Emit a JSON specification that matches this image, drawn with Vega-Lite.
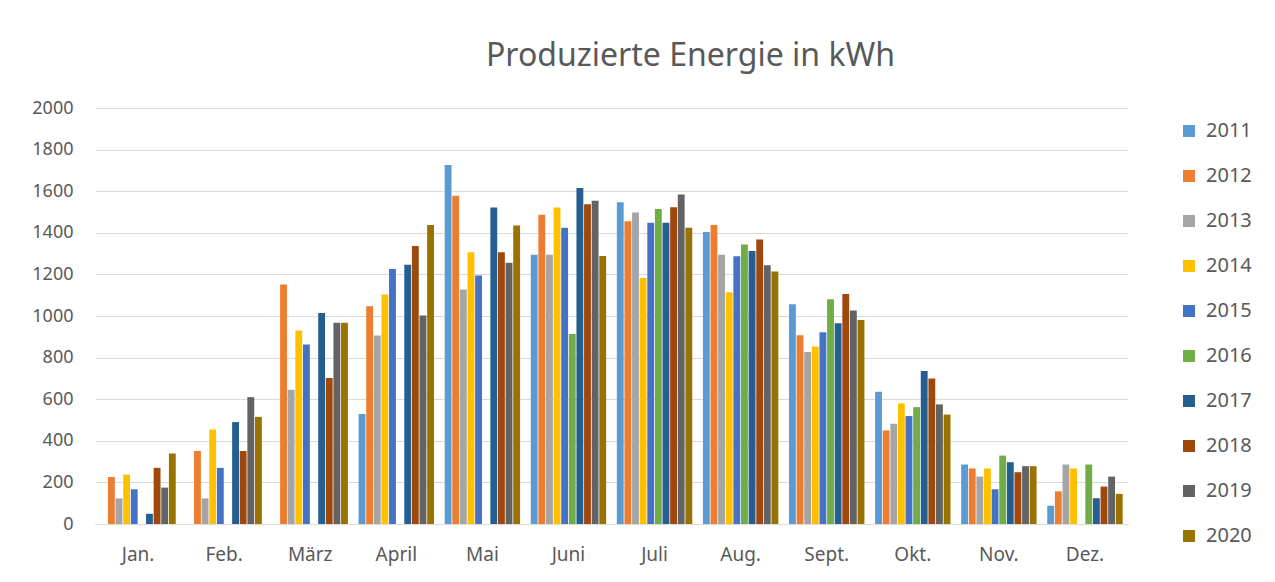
{
  "$schema": "https://vega.github.io/schema/vega-lite/v6.json",
  "autosize": {"type": "none"},
  "width": 1033,
  "height": 416,
  "padding": {"left": 95, "top": 108, "right": 147, "bottom": 58},
  "background": "white",
  "title": {
    "text": "Produzierte Energie in kWh",
    "anchor": "start",
    "frame": "group",
    "dx": 391,
    "offset": 26,
    "fontSize": 32,
    "font": "Noto Sans",
    "fontWeight": "normal",
    "color": "#595959"
  },
  "data": {
    "values": [
      {"month": "Jan.", "year": "2012", "value": 226},
      {"month": "Jan.", "year": "2013", "value": 123},
      {"month": "Jan.", "year": "2014", "value": 238},
      {"month": "Jan.", "year": "2015", "value": 167},
      {"month": "Jan.", "year": "2017", "value": 49},
      {"month": "Jan.", "year": "2018", "value": 270},
      {"month": "Jan.", "year": "2019", "value": 175},
      {"month": "Jan.", "year": "2020", "value": 339},
      {"month": "Feb.", "year": "2012", "value": 351},
      {"month": "Feb.", "year": "2013", "value": 123},
      {"month": "Feb.", "year": "2014", "value": 454},
      {"month": "Feb.", "year": "2015", "value": 270},
      {"month": "Feb.", "year": "2017", "value": 490},
      {"month": "Feb.", "year": "2018", "value": 351},
      {"month": "Feb.", "year": "2019", "value": 610},
      {"month": "Feb.", "year": "2020", "value": 515},
      {"month": "März", "year": "2012", "value": 1151},
      {"month": "März", "year": "2013", "value": 646},
      {"month": "März", "year": "2014", "value": 930},
      {"month": "März", "year": "2015", "value": 863},
      {"month": "März", "year": "2017", "value": 1015},
      {"month": "März", "year": "2018", "value": 702},
      {"month": "März", "year": "2019", "value": 967},
      {"month": "März", "year": "2020", "value": 967},
      {"month": "April", "year": "2011", "value": 529},
      {"month": "April", "year": "2012", "value": 1047},
      {"month": "April", "year": "2013", "value": 906},
      {"month": "April", "year": "2014", "value": 1103},
      {"month": "April", "year": "2015", "value": 1226},
      {"month": "April", "year": "2017", "value": 1246},
      {"month": "April", "year": "2018", "value": 1337},
      {"month": "April", "year": "2019", "value": 1002},
      {"month": "April", "year": "2020", "value": 1438},
      {"month": "Mai", "year": "2011", "value": 1726},
      {"month": "Mai", "year": "2012", "value": 1578},
      {"month": "Mai", "year": "2013", "value": 1128},
      {"month": "Mai", "year": "2014", "value": 1307},
      {"month": "Mai", "year": "2015", "value": 1195},
      {"month": "Mai", "year": "2017", "value": 1522},
      {"month": "Mai", "year": "2018", "value": 1307},
      {"month": "Mai", "year": "2019", "value": 1256},
      {"month": "Mai", "year": "2020", "value": 1435},
      {"month": "Juni", "year": "2011", "value": 1294},
      {"month": "Juni", "year": "2012", "value": 1487},
      {"month": "Juni", "year": "2013", "value": 1294},
      {"month": "Juni", "year": "2014", "value": 1522},
      {"month": "Juni", "year": "2015", "value": 1424},
      {"month": "Juni", "year": "2016", "value": 913},
      {"month": "Juni", "year": "2017", "value": 1615},
      {"month": "Juni", "year": "2018", "value": 1537},
      {"month": "Juni", "year": "2019", "value": 1554},
      {"month": "Juni", "year": "2020", "value": 1288},
      {"month": "Juli", "year": "2011", "value": 1547},
      {"month": "Juli", "year": "2012", "value": 1455},
      {"month": "Juli", "year": "2013", "value": 1497},
      {"month": "Juli", "year": "2014", "value": 1183},
      {"month": "Juli", "year": "2015", "value": 1448},
      {"month": "Juli", "year": "2016", "value": 1515},
      {"month": "Juli", "year": "2017", "value": 1448},
      {"month": "Juli", "year": "2018", "value": 1523},
      {"month": "Juli", "year": "2019", "value": 1584},
      {"month": "Juli", "year": "2020", "value": 1424},
      {"month": "Aug.", "year": "2011", "value": 1404},
      {"month": "Aug.", "year": "2012", "value": 1437},
      {"month": "Aug.", "year": "2013", "value": 1294},
      {"month": "Aug.", "year": "2014", "value": 1114},
      {"month": "Aug.", "year": "2015", "value": 1287},
      {"month": "Aug.", "year": "2016", "value": 1344},
      {"month": "Aug.", "year": "2017", "value": 1313},
      {"month": "Aug.", "year": "2018", "value": 1368},
      {"month": "Aug.", "year": "2019", "value": 1244},
      {"month": "Aug.", "year": "2020", "value": 1214},
      {"month": "Sept.", "year": "2011", "value": 1056},
      {"month": "Sept.", "year": "2012", "value": 907},
      {"month": "Sept.", "year": "2013", "value": 827},
      {"month": "Sept.", "year": "2014", "value": 853},
      {"month": "Sept.", "year": "2015", "value": 922},
      {"month": "Sept.", "year": "2016", "value": 1080},
      {"month": "Sept.", "year": "2017", "value": 965},
      {"month": "Sept.", "year": "2018", "value": 1106},
      {"month": "Sept.", "year": "2019", "value": 1026},
      {"month": "Sept.", "year": "2020", "value": 981},
      {"month": "Okt.", "year": "2011", "value": 636},
      {"month": "Okt.", "year": "2012", "value": 450},
      {"month": "Okt.", "year": "2013", "value": 482},
      {"month": "Okt.", "year": "2014", "value": 580},
      {"month": "Okt.", "year": "2015", "value": 519},
      {"month": "Okt.", "year": "2016", "value": 562},
      {"month": "Okt.", "year": "2017", "value": 736},
      {"month": "Okt.", "year": "2018", "value": 700},
      {"month": "Okt.", "year": "2019", "value": 575},
      {"month": "Okt.", "year": "2020", "value": 526},
      {"month": "Nov.", "year": "2011", "value": 286},
      {"month": "Nov.", "year": "2012", "value": 267},
      {"month": "Nov.", "year": "2013", "value": 228},
      {"month": "Nov.", "year": "2014", "value": 267},
      {"month": "Nov.", "year": "2015", "value": 167},
      {"month": "Nov.", "year": "2016", "value": 329},
      {"month": "Nov.", "year": "2017", "value": 297},
      {"month": "Nov.", "year": "2018", "value": 249},
      {"month": "Nov.", "year": "2019", "value": 278},
      {"month": "Nov.", "year": "2020", "value": 278},
      {"month": "Dez.", "year": "2011", "value": 88},
      {"month": "Dez.", "year": "2012", "value": 157},
      {"month": "Dez.", "year": "2013", "value": 286},
      {"month": "Dez.", "year": "2014", "value": 267},
      {"month": "Dez.", "year": "2016", "value": 286},
      {"month": "Dez.", "year": "2017", "value": 124},
      {"month": "Dez.", "year": "2018", "value": 180},
      {"month": "Dez.", "year": "2019", "value": 228},
      {"month": "Dez.", "year": "2020", "value": 145}
    ]
  },
  "mark": {"type": "bar"},
  "encoding": {
    "x": {
      "field": "month",
      "type": "nominal",
      "sort": ["Jan.", "Feb.", "März", "April", "Mai", "Juni", "Juli", "Aug.", "Sept.", "Okt.", "Nov.", "Dez."],
      "scale": {"paddingInner": 0.124, "paddingOuter": 0.062},
      "axis": {
        "title": null,
        "labelAngle": 0,
        "ticks": false,
        "domainColor": "#d9d9d9",
        "domainWidth": 1,
        "labelFont": "Noto Sans",
        "labelFontSize": 19,
        "labelColor": "#595959",
        "labelPadding": 21
      }
    },
    "xOffset": {
      "field": "year",
      "type": "nominal",
      "scale": {"domain": ["2011","2012","2013","2014","2015","2016","2017","2018","2019","2020"], "paddingInner": 0.1}
    },
    "y": {
      "field": "value",
      "type": "quantitative",
      "scale": {"domain": [0, 2000], "nice": false},
      "axis": {
        "title": null,
        "values": [0, 200, 400, 600, 800, 1000, 1200, 1400, 1600, 1800, 2000],
        "format": "d",
        "ticks": false,
        "domain": false,
        "gridColor": "#d9d9d9",
        "gridWidth": 1,
        "labelFont": "Noto Sans",
        "labelFontSize": 18,
        "labelColor": "#595959",
        "labelPadding": 22
      }
    },
    "color": {
      "field": "year",
      "type": "nominal",
      "scale": {
        "domain": ["2011","2012","2013","2014","2015","2016","2017","2018","2019","2020"],
        "range": ["#5B9BD5","#ED7D31","#A5A5A5","#FFC000","#4472C4","#70AD47","#255E91","#9E480E","#636363","#997300"]
      },
      "legend": {
        "title": null,
        "orient": "none",
        "legendX": 1084,
        "legendY": 13,
        "symbolType": "square",
        "symbolSize": 144,
        "symbolStrokeWidth": 0,
        "labelFont": "Noto Sans",
        "labelFontSize": 20,
        "labelColor": "#595959",
        "labelOffset": 7,
        "rowPadding": 25
      }
    }
  },
  "config": {
    "view": {"stroke": null}
  }
}
